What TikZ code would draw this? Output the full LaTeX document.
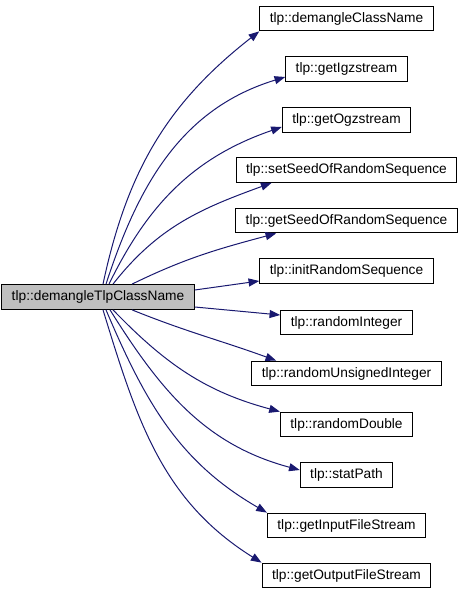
\documentclass[tikz,border=0pt]{standalone}
\usepackage{fontspec}
\setmainfont{Liberation Sans}
\usetikzlibrary{arrows.meta}
\definecolor{callblue}{HTML}{191970}
\definecolor{srcgrey}{HTML}{BFBFBF}

\begin{document}
\begin{tikzpicture}[x=0.75pt,y=0.75pt,
    fn/.style={draw=black,line width=0.8pt,inner xsep=7.5pt,inner ysep=0pt,minimum height=18.5pt,font=\fontsize{10.3}{12}\selectfont},
    call/.style={draw=callblue,line width=0.75pt,-{Triangle[length=8pt,width=6pt,fill=callblue]}}]
      \useasboundingbox (0,0) rectangle (459,595);

      \node[fn,fill=srcgrey] (n0) at (98,298) {tlp::demangleTlpClassName};

      \node[fn] (n1) at (346.5,576.5) {tlp::demangleClassName};
      \node[fn] (n2) at (346.5,526) {tlp::getIgzstream};
      \node[fn] (n3) at (346.5,475) {tlp::getOgzstream};
      \node[fn] (n4) at (346.5,425) {tlp::setSeedOfRandomSequence};
      \node[fn] (n5) at (346.5,374.5) {tlp::getSeedOfRandomSequence};
      \node[fn] (n6) at (346.5,324) {tlp::initRandomSequence};
      \node[fn] (n7) at (346.5,272.5) {tlp::randomInteger};
      \node[fn] (n8) at (346.5,221.5) {tlp::randomUnsignedInteger};
      \node[fn] (n9) at (346.5,170.5) {tlp::randomDouble};
      \node[fn] (n10) at (346.5,120) {tlp::statPath};
      \node[fn] (n11) at (346.5,69.5) {tlp::getInputFileStream};
      \node[fn] (n12) at (346.5,19.5) {tlp::getOutputFileStream};

      \draw[call] ([shift={(5,0)}]n0.north) to[out=78,in=218] (n1.south west);
      \draw[call] ([shift={(8,0)}]n0.north) to[out=72,in=197] ([shift={(0,-8)}]n2.west);
      \draw[call] ([shift={(11,0)}]n0.north) to[out=64,in=199] ([shift={(0,-7)}]n3.west);
      \draw[call] ([shift={(15,0)}]n0.north) to[out=52,in=200] ([shift={(36,0)}]n4.south west);
      \draw[call] ([shift={(34,0)}]n0.north) to[out=26,in=195] ([shift={(41,0)}]n5.south west);
      \draw[call] ([shift={(0,7)}]n0.east) -- ([shift={(0,-10)}]n6.west);
      \draw[call] ([shift={(0,-10)}]n0.east) -- ([shift={(0,7.5)}]n7.west);
      \draw[call] ([shift={(34,0)}]n0.south) to[out=-22,in=160] ([shift={(25,0)}]n8.north west);
      \draw[call] ([shift={(15,0)}]n0.south) to[out=-46,in=165] (n9.north west);
      \draw[call] ([shift={(12,0)}]n0.south) to[out=-58,in=165] ([shift={(0,5)}]n10.west);
      \draw[call] ([shift={(8,0)}]n0.south) to[out=-67,in=150] (n11.north west);
      \draw[call] ([shift={(5,0)}]n0.south) to[out=-73,in=148] (n12.north west);
\end{tikzpicture}
\end{document}
